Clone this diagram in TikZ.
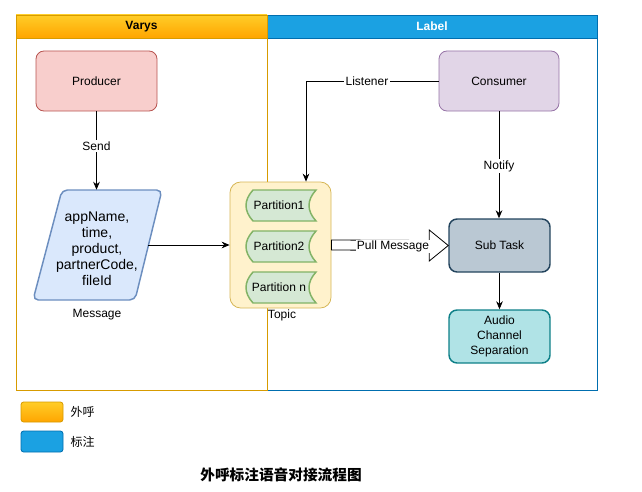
\documentclass[tikz,border=0pt]{standalone}
\usepackage{fontspec}
\setmainfont{Liberation Sans}
\newfontfamily\cjk{Noto Sans CJK SC}
\usetikzlibrary{arrows.meta,calc}
\definecolor{orTop}{HTML}{FFCD28}
\definecolor{orBot}{HTML}{FFA500}
\definecolor{orLine}{HTML}{D79B00}
\definecolor{blFill}{HTML}{1BA1E2}
\definecolor{blLine}{HTML}{006EAF}
\definecolor{redFill}{HTML}{F8CECC}
\definecolor{redLine}{HTML}{B85450}
\definecolor{purFill}{HTML}{E1D5E7}
\definecolor{purLine}{HTML}{9673A6}
\definecolor{msgFill}{HTML}{DAE8FC}
\definecolor{msgLine}{HTML}{6C8EBF}
\definecolor{topFill}{HTML}{FFF2CC}
\definecolor{topLine}{HTML}{D6B656}
\definecolor{parFill}{HTML}{D5E8D4}
\definecolor{parLine}{HTML}{82B366}
\definecolor{subFill}{HTML}{BAC8D3}
\definecolor{subLine}{HTML}{23445D}
\definecolor{audFill}{HTML}{B0E3E6}
\definecolor{audLine}{HTML}{0E8088}
\newcommand\partitionbox[4]{%
  \draw[partstyle] ({#2-35+7},{#3-15.5}) -- ({#2+35},{#3-15.5})
    .. controls ({#2+35-9.33},{#3-5.17}) and ({#2+35-9.33},{#3+5.17}) .. ({#2+35},{#3+15.5})
    -- ({#2-35+7},{#3+15.5})
    .. controls ({#2-35-2.33},{#3+5.17}) and ({#2-35-2.33},{#3-5.17}) .. cycle;
  \node (#1) at ({#2-2},#3) {#4};}
\begin{document}
\begin{tikzpicture}[x=0.75pt,y=-0.75pt,
  font=\fontsize{9}{11}\selectfont,
  every node/.style={inner sep=1pt},
  procbox/.style={draw, rounded corners=6pt, line width=0.6pt, align=center, minimum width=#1},
  arr/.style={-{Stealth[length=6pt,width=5pt]}, line width=0.6pt},
  lbl/.style={fill=white, inner sep=1pt},
  partstyle/.style={draw=parLine, fill=parFill, line width=1.1pt},
  lanetitle/.style={font=\fontsize{9}{11}\selectfont\bfseries},
]
\useasboundingbox (0,0) rectangle (642,492);
% lanes
\draw[blLine, line width=0.6pt] (267,15) rectangle (597,390);
\draw[fill=blFill, draw=blLine, line width=0.6pt] (267,15) rectangle (597,38);
\node[lanetitle, text=white] (labeltitle) at (432,26.5) {Label};
\draw[orLine, line width=0.6pt] (16,15) rectangle (267,390);
\path[top color=orTop, bottom color=orBot, draw=orLine, line width=0.6pt] (16,15) rectangle (267,38);
\node[lanetitle] (varystitle) at (141.5,26.5) {Varys};
% Producer
\node[procbox=90.75pt, minimum height=45pt, fill=redFill, draw=redLine] (producer) at (96.5,81) {Producer};
% Consumer
\node[procbox=90pt, minimum height=45pt, fill=purFill, draw=purLine] (consumer) at (499,81) {Consumer};
% Message parallelogram
\draw[fill=msgFill, draw=msgLine, line width=1.1pt, rounded corners=4pt] (112,190) -- (162,190) -- (135,300) -- (33,300) -- (62,190) -- cycle;
\node[minimum width=75.75pt, minimum height=82.5pt] (msg) at (97.5,245) {};
\node[align=center, font=\fontsize{10.5}{12}\selectfont] (msgtext) at (97,248.5) {appName,\\time,\\product,\\partnerCode,\\fileId};
\node (msglabel) at (97,315) {Message};
% Topic
\node[draw=topLine, fill=topFill, rounded corners=8pt, line width=0.6pt, minimum width=75.75pt, minimum height=94.5pt] (topic) at (280.5,245) {};
\node (topiclabel) at (282,315) {Topic};
\partitionbox{p1}{281}{205.5}{Partition1}
\partitionbox{p2}{281}{246.5}{Partition2}
\partitionbox{p3}{281}{287.5}{Partition n}
% Sub Task and Audio
\node[procbox=75.75pt, minimum height=39.75pt, fill=subFill, draw=subLine, line width=1.1pt] (sub) at (499.5,245.5) {Sub Task};
\node[procbox=75.75pt, minimum height=39.75pt, fill=audFill, draw=audLine, line width=1.1pt] (audio) at (499.5,336.5) {Audio\\Channel\\Separation};
% connectors
\draw[arr] (producer.south) -- node[lbl, pos=0.44]{Send} (producer.south |- msg.north);
\draw[arr] (msg.east) -- (topic.west);
\draw[arr] (consumer.west) -| node[lbl, pos=0.27]{Listener} ($(topic.north)+(25.5,0)$);
\draw[arr] (consumer.south) -- node[lbl, pos=0.51]{Notify} (consumer.south |- sub.north);
\draw[arr] (sub.south) -- (audio.north);
\draw[fill=white, line width=0.6pt] ($(topic.east)+(0,-5)$) -- ($(sub.west)+(-19,-5)$) -- ($(sub.west)+(-19,-15.5)$) -- (sub.west) -- ($(sub.west)+(-19,15.5)$) -- ($(sub.west)+(-19,5)$) -- ($(topic.east)+(0,5)$) -- cycle;
\node[lbl] (pull) at (393,246.5) {Pull Message};
% legend
\path[top color=orTop, bottom color=orBot, draw=orLine, line width=0.6pt, rounded corners=2pt] (21,402) rectangle (63,422);
\node[anchor=west, font=\cjk\fontsize{9}{11}\selectfont] (leg1) at (69,411.5) {外呼};
\draw[fill=blFill, draw=blLine, line width=0.6pt, rounded corners=2pt] (21,431) rectangle (63,452);
\node[anchor=west, font=\cjk\fontsize{9}{11}\selectfont] (leg2) at (69,441.5) {标注};
\node[font=\cjk\fontsize{11}{13}\selectfont\bfseries] (title) at (281,475) {外呼标注语音对接流程图};
\end{tikzpicture}
\end{document}
